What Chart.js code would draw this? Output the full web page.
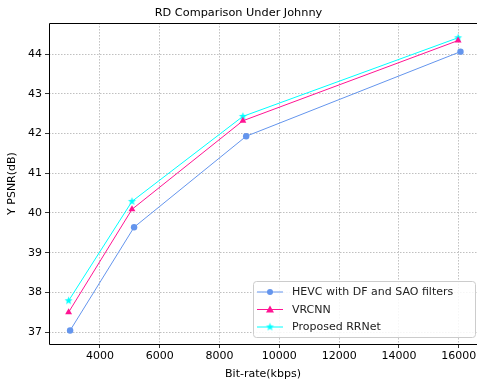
<!DOCTYPE html>
<html>
<head>
<meta charset="utf-8">
<script src="https://cdn.jsdelivr.net/npm/chart.js@4/dist/chart.umd.min.js"></script>
<style>
html,body{margin:0;padding:0;background:#fff;}
#wrap{width:477px;height:385px;position:relative;}
</style>
</head>
<body>
<div id="wrap"><canvas id="rdChart"></canvas></div>
<script>

const seriesNames = ["HEVC with DF and SAO filters", "VRCNN", "Proposed RRNet"];

const hevcRate = [3000, 5140, 8890, 16060];
const hevcPsnr = [37.04, 39.64, 41.93, 44.06];

const vrcnnRate = [2950, 5070, 8780, 15980];
const vrcnnPsnr = [37.50, 40.09, 42.32, 44.34];

const rrnetRate = [2950, 5070, 8780, 15980];
const rrnetPsnr = [37.79, 40.29, 42.43, 44.41];

const xTicks = [4000, 6000, 8000, 10000, 12000, 14000, 16000];
const yTicks = [37, 38, 39, 40, 41, 42, 43, 44];

const FONT = "'DejaVu Sans', sans-serif";

function toPoints(xs, ys){
    return xs.map((x,i)=>({x:x, y:ys[i]}));
}

// filled star marker (matplotlib '*')
function makeStar(r, color){
    const c = document.createElement("canvas");
    const s = Math.ceil(r*2+2);
    c.width = s; c.height = s;
    const g = c.getContext("2d");
    g.fillStyle = color;
    g.beginPath();
    for(let i=0;i<10;i++){
        const rad = i%2===0 ? r : r*0.42;
        const a = -Math.PI/2 + i*Math.PI/5;
        const px = s/2 + rad*Math.cos(a);
        const py = s/2 + rad*Math.sin(a);
        if(i===0) g.moveTo(px,py); else g.lineTo(px,py);
    }
    g.closePath();
    g.fill();
    return c;
}

const starImg = makeStar(4.2, "#00ffff");

const colors = ["#6495ed", "#ff1493", "#00ffff"];

const frameAndLegend = {
    id:"frameAndLegend",
    afterDraw(chart){
        const ctx = chart.ctx;
        const a = chart.chartArea;
        const l = Math.round(a.left)+0.5, t = Math.round(a.top)+0.5, b = Math.round(a.bottom)+0.5;
        ctx.save();
        ctx.strokeStyle = "#000";
        ctx.lineWidth = 1;
        ctx.setLineDash([]);
        // the right spine falls outside the picture
        ctx.beginPath();
        ctx.moveTo(a.right, t);
        ctx.lineTo(l, t);
        ctx.lineTo(l, b);
        ctx.lineTo(a.right, b);
        ctx.stroke();

        // legend box, bottom right
        const bx = 253.5, by = 281.5, bw = 222, bh = 56;
        ctx.fillStyle = "rgba(255,255,255,0.85)";
        ctx.strokeStyle = "#cccccc";
        ctx.beginPath();
        ctx.roundRect(bx, by, bw, bh, 3);
        ctx.fill();
        ctx.stroke();

        ctx.font = "11px " + FONT;
        ctx.textBaseline = "middle";
        const rows = [292, 309.5, 327];
        chart.data.datasets.forEach((ds,i)=>{
            const y = rows[i];
            ctx.strokeStyle = ds.borderColor;
            ctx.lineWidth = 1;
            ctx.beginPath();
            ctx.moveTo(257, y);
            ctx.lineTo(283, y);
            ctx.stroke();
            ctx.fillStyle = ds.borderColor;
            if(i===0){
                ctx.beginPath();
                ctx.arc(270, y, 3, 0, Math.PI*2);
                ctx.fill();
            } else if(i===1){
                ctx.beginPath();
                ctx.moveTo(270, y-4);
                ctx.lineTo(274, y+3);
                ctx.lineTo(266, y+3);
                ctx.closePath();
                ctx.fill();
            } else {
                ctx.drawImage(starImg, 270-starImg.width/2, y-starImg.height/2);
            }
            ctx.fillStyle = "#222";
            ctx.fillText(ds.label, 292, y+0.5);
        });
        ctx.restore();
    }
};

new Chart(
    document.getElementById("rdChart"),
    {
        type:"line",
        data:{
            datasets:[
                {
                    label:seriesNames[0],
                    data:toPoints(hevcRate, hevcPsnr),
                    borderColor:colors[0],
                    backgroundColor:colors[0],
                    borderWidth:1,
                    pointStyle:"circle",
                    pointRadius:3.2,
                    pointBorderWidth:0
                },
                {
                    label:seriesNames[1],
                    data:toPoints(vrcnnRate, vrcnnPsnr),
                    borderColor:colors[1],
                    backgroundColor:colors[1],
                    borderWidth:1,
                    pointStyle:"triangle",
                    pointRadius:4,
                    pointBorderWidth:0
                },
                {
                    label:seriesNames[2],
                    data:toPoints(rrnetRate, rrnetPsnr),
                    borderColor:colors[2],
                    backgroundColor:colors[2],
                    borderWidth:1,
                    pointStyle:starImg,
                    pointRadius:4
                }
            ]
        },
        options:{
            responsive:true,
            maintainAspectRatio:false,
            animation:false,
            layout:{autoPadding:false, padding:{top:0,right:0,left:0,bottom:0}},
            plugins:{
                legend:{display:false},
                tooltip:{enabled:false},
                title:{
                    display:true,
                    text:"RD Comparison Under Johnny",
                    color:"#000",
                    font:{family:FONT, size:11.3, weight:"normal"},
                    padding:{top:6,bottom:3.5}
                }
            },
            scales:{
                x:{
                    type:"linear",
                    min:2294,
                    max:16612,
                    afterBuildTicks:(s)=>{ s.ticks = xTicks.map(v=>({value:v})); },
                    afterFit:(s)=>{ s.height = 41; s.paddingLeft = 0; s.paddingRight = 0; },
                    ticks:{
                        color:"#000",
                        font:{family:FONT, size:11},
                        padding:2,
                        maxRotation:0,
                        autoSkip:false,
                        callback:(v)=>String(v)
                    },
                    grid:{
                        color:"#b0b0b0",
                        lineWidth:0.8,
                        tickColor:"#000",
                        tickLength:4,
                        tickBorderDash:[]
                    },
                    border:{display:false, dash:[1.5,1.5]},
                    title:{
                        display:true,
                        text:"Bit-rate(kbps)",
                        color:"#000",
                        font:{family:FONT, size:11},
                        padding:{top:0,bottom:4}
                    }
                },
                y:{
                    type:"linear",
                    min:36.70,
                    max:44.78,
                    afterBuildTicks:(s)=>{ s.ticks = yTicks.map(v=>({value:v})); },
                    afterFit:(s)=>{ s.width = 49; s.paddingTop = 0; s.paddingBottom = 0; },
                    ticks:{
                        color:"#000",
                        font:{family:FONT, size:11},
                        padding:3,
                        callback:(v)=>String(v)
                    },
                    grid:{
                        color:"#b0b0b0",
                        lineWidth:0.8,
                        tickColor:"#000",
                        tickLength:4,
                        tickBorderDash:[]
                    },
                    border:{display:false, dash:[1.5,1.5]},
                    title:{
                        display:true,
                        text:"Y PSNR(dB)",
                        color:"#000",
                        font:{family:FONT, size:11},
                        padding:{top:6,bottom:0}
                    }
                }
            }
        },
        plugins:[frameAndLegend]
    }
);

</script>
</body>
</html>
